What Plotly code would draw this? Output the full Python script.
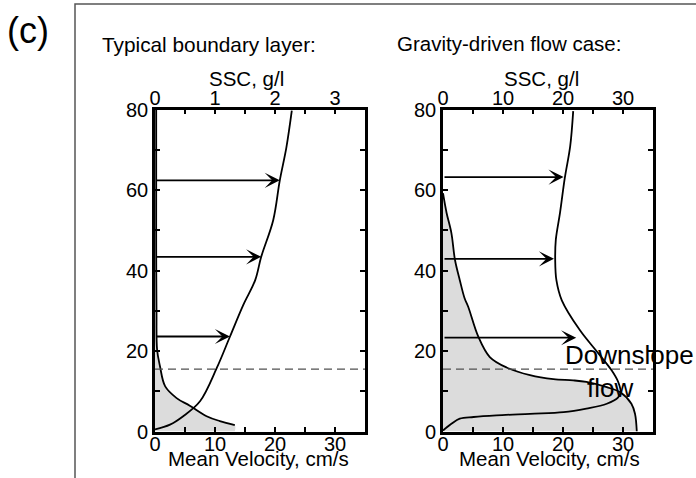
import plotly.graph_objects as go

W, H = 696, 478
FONT = "Liberation Sans, Arial, sans-serif"

# ---------------- data ----------------
# Left panel: typical boundary layer
left_vel_height = [0.5, 1.7, 3.8, 7.5, 15.8, 23.6, 31.4, 37.6, 43.4, 52.5, 62.4, 70.6, 79.7]
left_vel = [0.0, 2.5, 4.7, 7.5, 10.3, 12.5, 14.7, 16.7, 17.7, 19.7, 20.8, 21.9, 22.8]

left_ssc_height = [1.6, 2.6, 3.8, 6.4, 8.3, 11.2, 16.2, 20.3, 30.0, 45.0, 60.0, 80.0]
left_ssc = [1.33, 1.08, 0.86, 0.58, 0.36, 0.17, 0.083, 0.035, 0.025, 0.02, 0.02, 0.02]

left_arrow_height = [62.4, 43.4, 23.6]
left_arrow_vel = [20.8, 17.7, 12.5]

# Right panel: gravity-driven flow
right_vel_height = [0.25, 1.9, 3.2, 3.6, 4.0, 4.4, 4.8, 5.7, 6.9, 8.5, 9.7, 12.3, 15.2, 19.4,
                    25.2, 32.6, 37.6, 42.6, 47.6, 54.3, 63.0, 70.9, 79.6]
right_vel = [0.0, 1.4, 2.8, 5.1, 8.9, 14.5, 20.1, 23.9, 27.3, 29.2, 29.6, 29.2, 28.1, 25.9,
             22.8, 19.8, 18.9, 18.7, 18.8, 19.5, 20.3, 21.2, 21.7]

right_ssc_height = [0.0, 4.4, 6.9, 9.7, 11.0, 12.3, 12.7, 13.0, 14.0, 15.9, 18.5, 23.5,
                    31.0, 33.1, 37.6, 42.6, 49.3, 54.3, 59.2]
right_ssc = [32.3, 32.0, 31.4, 29.6, 27.3, 23.9, 21.7, 18.4, 14.5, 10.6, 7.8, 5.9,
             4.2, 3.6, 2.8, 2.0, 1.4, 0.6, 0.0]

right_arrow_height = [63.2, 42.9, 23.3]
right_arrow_vel = [20.1, 18.5, 22.2]

interface_height = 15.5

vel_range = [0, 35]
left_ssc_range = [0, 3.5]
right_ssc_range = [0, 35]
height_range = [0, 80]

vel_ticks = [0, 5, 10, 15, 20, 25, 30]
vel_ticktext = ["0", "", "10", "", "20", "", "30"]
left_ssc_ticks = [0, 0.5, 1, 1.5, 2, 2.5, 3]
left_ssc_ticktext = ["0", "", "1", "", "2", "", "3"]
right_ssc_ticks = [0, 5, 10, 15, 20, 25, 30]
right_ssc_ticktext = ["0", "", "10", "", "20", "", "30"]
height_ticks = [0, 10, 20, 30, 40, 50, 60, 70, 80]
height_ticktext = ["0", "", "20", "", "40", "", "60", "", "80"]

# ---------------- helpers ----------------
def px(x):
    return x / W

def py(y):
    return 1 - y / H

LINE_W = 1.8
AX_W = 2.6
GREY = "#dcdcdc"
DASH = "#505050"

fig = go.Figure()

# Base subplots (SSC axes, x / x2) hold the shaded SSC profiles;
# overlay subplots (velocity axes, x3 / x4) hold velocity lines on top.

# ---- left panel ----
fig.add_trace(go.Scatter(
    x=[left_ssc[0]] + left_ssc, y=[0] + left_ssc_height,
    xaxis="x", yaxis="y", mode="lines", line=dict(width=0, shape="spline"),
    fill="tozerox", fillcolor=GREY, hoverinfo="skip", showlegend=False))
fig.add_trace(go.Scatter(
    x=left_ssc, y=left_ssc_height, xaxis="x", yaxis="y", mode="lines",
    line=dict(color="black", width=LINE_W, shape="spline"), showlegend=False))
fig.add_trace(go.Scatter(
    x=left_vel, y=left_vel_height, xaxis="x3", yaxis="y", mode="lines",
    line=dict(color="black", width=LINE_W, shape="spline"), showlegend=False))
fig.add_trace(go.Scatter(
    x=vel_range, y=[interface_height] * 2, xaxis="x3", yaxis="y", mode="lines",
    line=dict(color=DASH, width=1.3, dash="8px,5px"), showlegend=False))

# ---- right panel ----
fig.add_trace(go.Scatter(
    x=right_ssc, y=right_ssc_height, xaxis="x2", yaxis="y2", mode="lines",
    line=dict(color="black", width=LINE_W, shape="spline"),
    fill="tozerox", fillcolor=GREY, showlegend=False))
fig.add_trace(go.Scatter(
    x=right_vel, y=right_vel_height, xaxis="x4", yaxis="y2", mode="lines",
    line=dict(color="black", width=LINE_W, shape="spline"), showlegend=False))
fig.add_trace(go.Scatter(
    x=vel_range, y=[interface_height] * 2, xaxis="x4", yaxis="y2", mode="lines",
    line=dict(color=DASH, width=1.3, dash="8px,5px"), showlegend=False))

annotations = []
for h, v in zip(left_arrow_height, left_arrow_vel):
    annotations.append(dict(x=v, y=h, ax=0, ay=h, xref="x3", yref="y", axref="x3", ayref="y",
                            text="", showarrow=True, arrowhead=3, arrowsize=1.4,
                            arrowwidth=1.8, arrowcolor="black"))
for h, v in zip(right_arrow_height, right_arrow_vel):
    annotations.append(dict(x=v, y=h, ax=0, ay=h, xref="x4", yref="y2", axref="x4", ayref="y2",
                            text="", showarrow=True, arrowhead=3, arrowsize=1.4,
                            arrowwidth=1.8, arrowcolor="black"))

def txt(s, x, y, size, xanchor="center", yanchor="middle", xref="paper", yref="paper"):
    return dict(text=s, x=x, y=y, xref=xref, yref=yref, showarrow=False,
                xanchor=xanchor, yanchor=yanchor,
                font=dict(family=FONT, size=size, color="black"))

annotations += [
    txt("(c)", px(5), py(31), 36, xanchor="left"),
    txt("Typical boundary layer:", px(100), py(44), 20.8, xanchor="left"),
    txt("Gravity-driven flow case:", px(395), py(43), 20.5, xanchor="left"),
    txt("SSC, g/l", px(246), py(78), 20.5),
    txt("SSC, g/l", px(541), py(78), 20.5),
    txt("Mean Velocity, cm/s", px(258), py(458), 20.5),
    txt("Mean Velocity, cm/s", px(549), py(458), 20.5),
    txt("Downslope", 31.0, 19.0, 26, xref="x4", yref="y2"),
    txt("flow", 27.8, 10.7, 26, xref="x4", yref="y2"),
]

dom_left = [px(155), px(365)]
dom_right = [px(443), px(653)]
dom_y = [py(431.5), py(109.5)]

axis_common = dict(showgrid=False, zeroline=False, showline=True, linecolor="black",
                   linewidth=AX_W, ticks="inside", ticklen=5, tickwidth=2,
                   tickcolor="black", tickfont=dict(family=FONT, size=20, color="black"),
                   tickmode="array", automargin=False)

fig.update_layout(
    width=W, height=H, margin=dict(l=0, r=0, t=0, b=0, pad=0, autoexpand=False),
    paper_bgcolor="white", plot_bgcolor="white", showlegend=False,
    # SSC axes (top, base)
    xaxis=dict(domain=dom_left, range=left_ssc_range, anchor="y", side="top",
               tickvals=left_ssc_ticks, ticktext=left_ssc_ticktext,
               ticklabelstandoff=-6, **axis_common),
    xaxis2=dict(domain=dom_right, range=right_ssc_range, anchor="y2", side="top",
                tickvals=right_ssc_ticks, ticktext=right_ssc_ticktext,
                ticklabelstandoff=-6, **axis_common),
    # velocity axes (bottom, overlay)
    xaxis3=dict(range=vel_range, anchor="y", side="bottom", overlaying="x",
                tickvals=vel_ticks, ticktext=vel_ticktext,
                ticklabelstandoff=-7, **axis_common),
    xaxis4=dict(range=vel_range, anchor="y2", side="bottom", overlaying="x2",
                tickvals=vel_ticks, ticktext=vel_ticktext,
                ticklabelstandoff=-7, **axis_common),
    yaxis=dict(domain=dom_y, range=height_range, anchor="x", mirror="ticks",
               tickvals=height_ticks, ticktext=height_ticktext, **axis_common),
    yaxis2=dict(domain=dom_y, range=height_range, anchor="x2", mirror="ticks",
                tickvals=height_ticks, ticktext=height_ticktext, **axis_common),
    annotations=annotations,
    shapes=[dict(type="path", xref="paper", yref="paper",
                 path=f"M {px(696)},{py(4)} L {px(75)},{py(4)} L {px(75)},{py(478)}",
                 line=dict(color="#555555", width=1.5))],
)

fig.write_html("out.html", config={"displayModeBar": False},
               post_script="document.body.style.margin='0px';")
